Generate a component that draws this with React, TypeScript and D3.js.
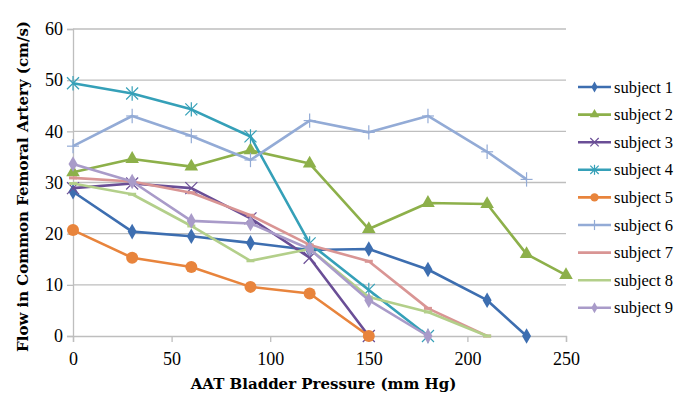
import * as d3 from "d3";
import React, { useRef, useEffect } from "react";

const mainWidth = 686;
const mainHeight = 398;
const margin = { top: 29, right: 120, bottom: 62, left: 73 };
const width = 566 - margin.left;
const height = 336 - margin.top;

const pressures = [0, 30, 60, 90, 120, 150, 180, 210, 230, 250];
const xTicks = [0, 50, 100, 150, 200, 250];
const yTicks = [0, 10, 20, 30, 40, 50, 60];

const subject1 = [28.2, 20.4, 19.5, 18.2, 16.8, 17.0, 13.0, 7.0, 0];
const subject2 = [32.0, 34.6, 33.1, 36.3, 33.7, 20.9, 26.0, 25.8, 16.0, 11.9];
const subject3 = [28.9, 29.8, 28.9, 23.0, 15.3, 0];
const subject4 = [49.4, 47.4, 44.3, 39.0, 18.1, 9.0, 0];
const subject5 = [20.7, 15.3, 13.5, 9.6, 8.3, 0];
const subject6 = [37.1, 43.0, 39.1, 34.4, 42.1, 39.8, 43.0, 36.0, 30.6];
const subject7 = [30.9, 30.2, 28.0, 23.6, 17.8, 14.6, 5.4, 0];
const subject8 = [29.8, 27.7, 21.5, 14.7, 17.0, 7.6, 4.7, 0];
const subject9 = [33.6, 30.2, 22.5, 22.0, 17.0, 7.0, 0];

const seriesNames = [
  "subject 1", "subject 2", "subject 3", "subject 4", "subject 5",
  "subject 6", "subject 7", "subject 8", "subject 9",
];
const seriesValues = [
  subject1, subject2, subject3, subject4, subject5,
  subject6, subject7, subject8, subject9,
];
const colors = [
  "#3D6EB0", "#8DB04A", "#6A4E96", "#35A0B8", "#E8843C",
  "#93ABD6", "#D99594", "#B3CF8A", "#A99BC9",
];
const markers = [
  "diamond", "triangle", "cross", "star", "circle",
  "plus", "dash", "dash", "diamond",
];

const serif = "'Liberation Serif', 'DejaVu Serif', serif";
const titleFont = "'DejaVu Serif', serif";

function drawMarker(g: any, type: string, x: number, y: number, color: string, small = false) {
  const s = small ? 0.7 : 1;
  if (type === "diamond") {
    g.append("path")
      .attr("d", d3.symbol(d3.symbolDiamond, 70 * s * s)())
      .attr("transform", `translate(${x},${y})`)
      .attr("fill", color);
  } else if (type === "triangle") {
    g.append("path")
      .attr("d", d3.symbol(d3.symbolTriangle, 80 * s * s)())
      .attr("transform", `translate(${x},${y})`)
      .attr("fill", color);
  } else if (type === "circle") {
    g.append("circle").attr("cx", x).attr("cy", y).attr("r", 6 * s).attr("fill", color);
  } else if (type === "cross" || type === "star" || type === "plus") {
    const r = 6 * s;
    const lines: number[][] = [];
    if (type !== "plus") lines.push([-r, -r, r, r], [-r, r, r, -r]);
    if (type !== "cross") lines.push([0, -r * 1.2, 0, r * 1.2]);
    if (type === "plus") lines.push([-r, 0, r, 0]);
    lines.forEach((l) =>
      g.append("line")
        .attr("x1", x + l[0]).attr("y1", y + l[1])
        .attr("x2", x + l[2]).attr("y2", y + l[3])
        .attr("stroke", color).attr("stroke-width", 1.2)
    );
  } else if (type === "dash") {
    g.append("line")
      .attr("x1", x - 4 * s).attr("y1", y).attr("x2", x + 4 * s).attr("y2", y)
      .attr("stroke", color).attr("stroke-width", 3);
  }
}

function App() {
  const ref = useRef<SVGSVGElement>(null);

  useEffect(() => {
    const svg = d3.select(ref.current);
    svg.selectAll("*").remove();

    const xScale = d3.scaleLinear().domain([0, 250]).range([0, width]);
    const yScale = d3.scaleLinear().domain([0, 60]).range([height, 0]);

    const plot = svg.append("g").attr("transform", `translate(${margin.left},${margin.top})`);

    // gridlines
    plot.selectAll(".grid")
      .data(yTicks.slice(1))
      .join("line")
      .attr("x1", 0).attr("x2", width)
      .attr("y1", (d) => yScale(d)).attr("y2", (d) => yScale(d))
      .attr("stroke", "#BEBEBE").attr("stroke-width", 1.3);

    // y axis
    const yAxis = plot.append("g").call(d3.axisLeft(yScale).tickValues(yTicks).tickSize(6).tickPadding(4));
    yAxis.selectAll("line, path").attr("stroke", "#BEBEBE").attr("stroke-width", 1.3);
    yAxis.selectAll("text").attr("font-family", serif).attr("font-size", 18).attr("fill", "#000");

    // x axis
    const xAxis = plot.append("g")
      .attr("transform", `translate(0,${height})`)
      .call(d3.axisBottom(xScale).tickValues(xTicks).tickSize(6).tickPadding(10));
    xAxis.selectAll("line, path").attr("stroke", "#BEBEBE").attr("stroke-width", 1.3);
    xAxis.selectAll("text").attr("font-family", serif).attr("font-size", 18).attr("fill", "#000");

    const line = d3.line<number>()
      .x((_, i) => xScale(pressures[i]))
      .y((d) => yScale(d));

    seriesValues.forEach((vals, k) => {
      const g = plot.append("g");
      g.append("path")
        .attr("d", line(vals))
        .attr("fill", "none")
        .attr("stroke", colors[k])
        .attr("stroke-width", 2.6)
        .attr("stroke-linejoin", "round");
      vals.forEach((v, i) => drawMarker(g, markers[k], xScale(pressures[i]), yScale(v), colors[k]));
    });

    // axis titles
    svg.append("text")
      .attr("x", margin.left + width / 2 + 4)
      .attr("y", 389)
      .attr("text-anchor", "middle")
      .attr("font-family", titleFont)
      .attr("font-weight", "bold")
      .attr("font-size", 15)
      .text("AAT Bladder Pressure (mm Hg)");

    svg.append("text")
      .attr("transform", `translate(28,${margin.top + height / 2 + 4}) rotate(-90)`)
      .attr("text-anchor", "middle")
      .attr("font-family", titleFont)
      .attr("font-weight", "bold")
      .attr("font-size", 15)
      .text("Flow in Common Femoral Artery (cm/s)");

    // legend
    const legend = svg.append("g").attr("transform", "translate(578,87)");
    seriesNames.forEach((name, k) => {
      const item = legend.append("g").attr("transform", `translate(0,${k * 27.6})`);
      item.append("line")
        .attr("x1", 0).attr("x2", 33).attr("y1", 0).attr("y2", 0)
        .attr("stroke", colors[k]).attr("stroke-width", 2.6);
      drawMarker(item, markers[k] === "dash" ? "none" : markers[k], 16.5, 0, colors[k], true);
      item.append("text")
        .attr("x", 36).attr("y", 5.5)
        .attr("font-family", serif)
        .attr("font-size", 16.5)
        .text(name);
    });
  }, []);

  return (
    <svg
      ref={ref}
      width={mainWidth}
      height={mainHeight}
      style={{ position: "absolute", left: 0, top: 0, background: "#fff" }}
    ></svg>
  );
}

export default App;
